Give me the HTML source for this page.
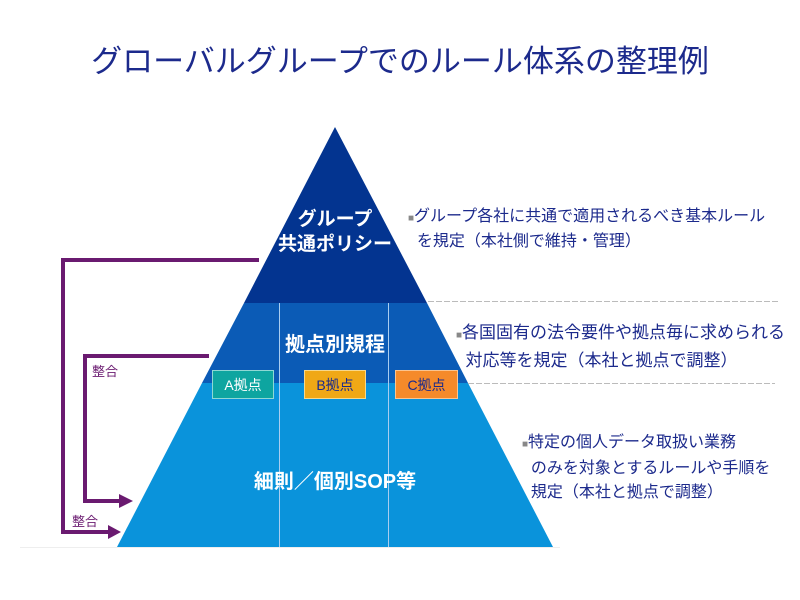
<!DOCTYPE html>
<html><head><meta charset="utf-8"><style>
body{margin:0;width:800px;height:600px;background:#fff;overflow:hidden;font-family:"Liberation Sans","Noto Sans CJK JP",sans-serif;}
.t{position:absolute;white-space:nowrap;}
</style></head><body>
<div class="t" style="left:0;width:800px;top:36px;text-align:center;font-size:31px;color:#1c2a8c;">グローバルグループでのルール体系の整理例</div>
<svg width="800" height="600" style="position:absolute;left:0;top:0">
<line x1="20" y1="547.5" x2="560" y2="547.5" stroke="#eee" stroke-width="1"/>
<polygon points="335,127 244,303 427,303" fill="#033490"/>
<polygon points="244,303 427,303 468,383 202,383" fill="#0b5bb6"/>
<polygon points="202,383 468,383 553,547 117,547" fill="#0a93db"/>
<line x1="279.5" y1="303" x2="279.5" y2="547" stroke="#a9cdf0" stroke-width="1"/>
<line x1="388.5" y1="303" x2="388.5" y2="547" stroke="#a9cdf0" stroke-width="1"/>
<line x1="428" y1="301.5" x2="778" y2="301.5" stroke="#bbb" stroke-dasharray="6,2"/>
<line x1="468" y1="383.5" x2="775" y2="383.5" stroke="#bbb" stroke-dasharray="6,2"/>
<rect x="212.5" y="370.5" width="61" height="28" fill="#0ea5a0" stroke="#8fd8d4"/>
<rect x="304.5" y="370.5" width="61" height="28" fill="#f0a816" stroke="#f8d88a"/>
<rect x="395.5" y="370.5" width="62" height="28" fill="#f58a2a" stroke="#fbc48f"/>
<g stroke="#6a1a70" stroke-width="4" fill="none">
<polyline points="259,260 63,260 63,532 110,532"/>
<polyline points="209,356 85,356 85,501 120,501"/>
</g>
<polygon points="108,525 121,532 108,539" fill="#6a1a70"/>
<polygon points="119,494 133,501 119,508" fill="#6a1a70"/>
</svg>
<div class="t" style="left:0;width:670px;text-align:center;top:207px;font-size:19px;font-weight:bold;color:#fff;line-height:25px;">グループ<br>共通ポリシー</div>
<div class="t" style="left:0;width:670px;text-align:center;top:328px;font-size:20px;font-weight:bold;color:#fff;">拠点別規程</div>
<div class="t" style="left:0;width:670px;text-align:center;top:465px;font-size:20px;font-weight:bold;color:#fff;">細則／個別SOP等</div>
<div class="t" style="left:212px;width:62px;text-align:center;top:375px;font-size:14px;color:#fff;">A拠点</div>
<div class="t" style="left:304px;width:62px;text-align:center;top:375px;font-size:14px;color:#1a2a8c;">B拠点</div>
<div class="t" style="left:395px;width:63px;text-align:center;top:375px;font-size:14px;color:#1a2a8c;">C拠点</div>
<div class="t" style="left:92px;top:361px;font-size:13px;color:#6a1a70;">整合</div>
<div class="t" style="left:72px;top:511px;font-size:13px;color:#6a1a70;">整合</div>
<div class="t" style="left:408px;top:205px;font-size:16px;color:#1c2a8c;line-height:23px;"><span style="color:#888;font-size:10px">■</span>グループ各社に共通で適用されるべき基本ルール<br>&nbsp;&nbsp;を規定（本社側で維持・管理）</div>
<div class="t" style="left:456px;top:320px;font-size:17px;color:#1c2a8c;line-height:25px;"><span style="color:#888;font-size:10px">■</span>各国固有の法令要件や拠点毎に求められる<br>&nbsp;&nbsp;対応等を規定（本社と拠点で調整）</div>
<div class="t" style="left:522px;top:431px;font-size:16px;color:#1c2a8c;line-height:24px;"><span style="color:#888;font-size:10px">■</span>特定の個人データ取扱い業務<br>&nbsp;&nbsp;のみを対象とするルールや手順を<br>&nbsp;&nbsp;規定（本社と拠点で調整）</div>
</body></html>
